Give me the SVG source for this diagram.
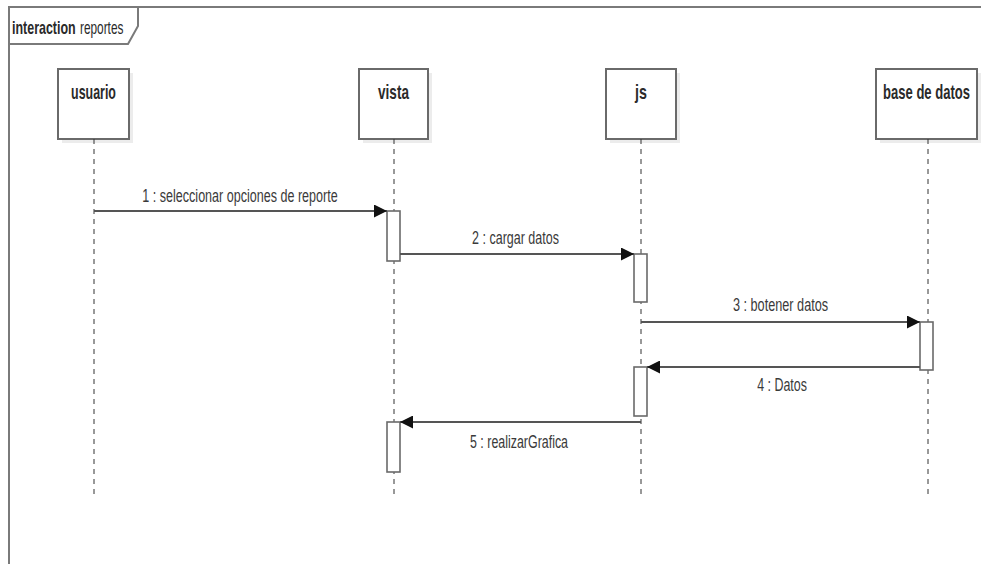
<svg xmlns="http://www.w3.org/2000/svg" width="981" height="564" viewBox="0 0 981 564">
  <style>
    .frame { fill: none; stroke: #7a7a7a; stroke-width: 2; }
    .head { fill: #ffffff; stroke: #6a6a6a; stroke-width: 2; }
    .shadow { fill: #ececec; }
    .life { stroke: #333333; stroke-width: 1; stroke-dasharray: 5 5; fill: none; }
    .act { fill: #ffffff; stroke: #6a6a6a; stroke-width: 1.6; }
    .msg { stroke: #555555; stroke-width: 2; fill: none; }
    text { font-family: "Liberation Sans Narrow", "Liberation Sans", sans-serif; lengthAdjust: spacingAndGlyphs; }
    .name { font-size: 20px; font-weight: bold; fill: #2a2a2a; text-anchor: middle; }
    .lbl { font-size: 18.5px; fill: #3a3a3a; text-anchor: middle; }
    .tab { font-size: 18px; fill: #2a2a2a; }
  </style>
  <defs>
    <marker id="arrow" viewBox="0 0 12 12" refX="12" refY="6" markerWidth="13" markerHeight="13" markerUnits="userSpaceOnUse" orient="auto">
      <path d="M0,0 L12,6 L0,12 Z" fill="#111111"/>
    </marker>
  </defs>

  <rect width="981" height="564" fill="#ffffff"/>

  <!-- interaction frame -->
  <g id="frame">
    <path class="frame" d="M9,564 L9,7 L981,7"/>
    <path class="frame" d="M9,44 L128,44 L138,26 L138,7"/>
    <text class="tab" transform="translate(12,34) scale(0.7,1)" font-weight="bold" textLength="91" lengthAdjust="spacingAndGlyphs">interaction</text>
    <text class="tab" transform="translate(80,34) scale(0.7,1)" textLength="62" lengthAdjust="spacingAndGlyphs">reportes</text>
  </g>

  <!-- lifelines -->
  <g id="usuario">
    <rect class="shadow" x="62" y="73" width="71" height="70"/>
    <rect class="head" x="58" y="69" width="71" height="70"/>
    <text class="name" transform="translate(93.5,99) scale(0.7,1)" textLength="64" lengthAdjust="spacingAndGlyphs">usuario</text>
    <line class="life" x1="94" y1="139" x2="94" y2="498"/>
  </g>
  <g id="vista">
    <rect class="shadow" x="363" y="73" width="69" height="70"/>
    <rect class="head" x="359" y="69" width="69" height="70"/>
    <text class="name" transform="translate(393.5,99) scale(0.7,1)" textLength="44" lengthAdjust="spacingAndGlyphs">vista</text>
    <line class="life" x1="394" y1="139" x2="394" y2="498"/>
  </g>
  <g id="js">
    <rect class="shadow" x="610" y="73" width="70" height="70"/>
    <rect class="head" x="606" y="69" width="70" height="70"/>
    <text class="name" transform="translate(641,99) scale(0.7,1)" textLength="17" lengthAdjust="spacingAndGlyphs">js</text>
    <line class="life" x1="641" y1="139" x2="641" y2="498"/>
  </g>
  <g id="base-de-datos">
    <rect class="shadow" x="880" y="73" width="101" height="70"/>
    <rect class="head" x="876" y="69" width="101" height="70"/>
    <text class="name" transform="translate(926.5,99) scale(0.7,1)" textLength="124" lengthAdjust="spacingAndGlyphs">base de datos</text>
    <line class="life" x1="928" y1="139" x2="928" y2="498"/>
  </g>

  <!-- activation bars -->
  <g id="activations">
    <rect class="act" x="387" y="211" width="13" height="50"/>
    <rect class="act" x="634" y="254" width="13" height="48"/>
    <rect class="act" x="920" y="322" width="13" height="48"/>
    <rect class="act" x="634" y="367" width="13" height="49"/>
    <rect class="act" x="387" y="422" width="13" height="50"/>
  </g>

  <!-- messages -->
  <g id="connectors">
    <line class="msg" x1="94" y1="211" x2="387" y2="211" marker-end="url(#arrow)"/>
    <text class="lbl" transform="translate(240,202) scale(0.7,1)" textLength="279" lengthAdjust="spacingAndGlyphs">1 : seleccionar opciones de reporte</text>

    <line class="msg" x1="400" y1="254" x2="634" y2="254" marker-end="url(#arrow)"/>
    <text class="lbl" transform="translate(515.5,244) scale(0.7,1)" textLength="124" lengthAdjust="spacingAndGlyphs">2 : cargar datos</text>

    <line class="msg" x1="641" y1="322" x2="920" y2="322" marker-end="url(#arrow)"/>
    <text class="lbl" transform="translate(780.5,311) scale(0.7,1)" textLength="136" lengthAdjust="spacingAndGlyphs">3 : botener datos</text>

    <line class="msg" x1="920" y1="367" x2="647" y2="367" marker-end="url(#arrow)"/>
    <text class="lbl" transform="translate(782,391) scale(0.7,1)" textLength="71" lengthAdjust="spacingAndGlyphs">4 : Datos</text>

    <line class="msg" x1="641" y1="422" x2="400" y2="422" marker-end="url(#arrow)"/>
    <text class="lbl" transform="translate(519,448) scale(0.7,1)" textLength="140" lengthAdjust="spacingAndGlyphs">5 : realizarGrafica</text>
  </g>
</svg>
